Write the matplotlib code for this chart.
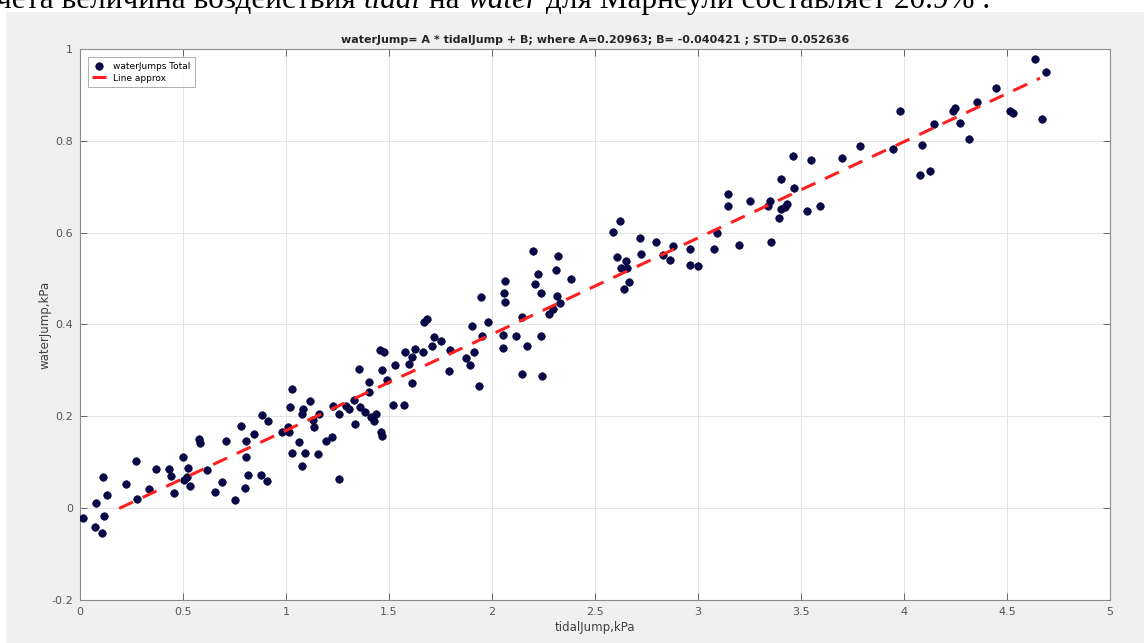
import numpy as np
import matplotlib
matplotlib.use("Agg")
import matplotlib.pyplot as plt
from matplotlib.patches import Rectangle

# data (tidalJump, waterJump in kPa)
tidal = [
    0.016, 0.076, 0.073, 0.105, 0.110, 0.131, 0.117, 0.223, 0.270, 0.278,
    0.335, 0.367, 0.432, 0.442, 0.456, 0.502, 0.523, 0.507, 0.518, 0.536,
    0.578, 0.584, 0.617, 0.654, 0.688, 0.710, 0.754, 0.780, 0.806, 0.806,
    0.814, 0.803, 0.843, 0.882, 0.911, 0.880, 0.909, 0.980, 1.013, 1.011,
    1.029, 1.019, 1.031, 1.065, 1.076, 1.081, 1.079, 1.091, 1.117, 1.129,
    1.136, 1.154, 1.162, 1.194, 1.223, 1.227, 1.259, 1.259, 1.293, 1.307,
    1.330, 1.333, 1.352, 1.359, 1.385, 1.401, 1.404, 1.411, 1.429, 1.437,
    1.460, 1.467, 1.455, 1.477, 1.464, 1.492, 1.521, 1.531, 1.574, 1.579,
    1.599, 1.612, 1.612, 1.626, 1.665, 1.670, 1.684, 1.707, 1.720, 1.750,
    1.790, 1.796, 1.874, 1.893, 1.903, 1.911, 1.937, 1.947, 1.950, 1.979,
    2.052, 2.053, 2.063, 2.058, 2.063, 2.117, 2.144, 2.144, 2.171, 2.201,
    2.209, 2.222, 2.239, 2.238, 2.241, 2.275, 2.294, 2.309, 2.319, 2.314,
    2.328, 2.385, 2.589, 2.623, 2.605, 2.628, 2.650, 2.655, 2.665, 2.639,
    2.717, 2.723, 2.796, 2.828, 2.865, 2.880, 2.961, 2.963, 3.001, 3.078,
    3.094, 3.147, 3.147, 3.199, 3.252, 3.348, 3.341, 3.356, 3.393, 3.403,
    3.403, 3.422, 3.434, 3.463, 3.464, 3.527, 3.550, 3.592, 3.699, 3.788,
    3.948, 3.981, 4.078, 4.087, 4.125, 4.144, 4.240, 4.246, 4.270, 4.314,
    4.354, 4.445, 4.516, 4.531, 4.638, 4.691, 4.670,
]
water = [
    -0.022, 0.012, -0.041, -0.053, 0.068, 0.028, -0.018, 0.053, 0.103, 0.019,
    0.042, 0.086, 0.086, 0.070, 0.033, 0.112, 0.088, 0.061, 0.067, 0.048,
    0.150, 0.143, 0.084, 0.036, 0.057, 0.146, 0.018, 0.178, 0.147, 0.112,
    0.073, 0.044, 0.162, 0.203, 0.190, 0.073, 0.060, 0.166, 0.166, 0.177,
    0.120, 0.221, 0.260, 0.144, 0.092, 0.215, 0.205, 0.121, 0.233, 0.192,
    0.176, 0.118, 0.205, 0.147, 0.156, 0.222, 0.064, 0.205, 0.222, 0.215,
    0.235, 0.184, 0.302, 0.221, 0.210, 0.253, 0.275, 0.199, 0.190, 0.206,
    0.166, 0.158, 0.344, 0.341, 0.301, 0.280, 0.224, 0.311, 0.225, 0.341,
    0.315, 0.330, 0.273, 0.346, 0.341, 0.406, 0.411, 0.353, 0.373, 0.364,
    0.299, 0.344, 0.327, 0.312, 0.396, 0.340, 0.266, 0.459, 0.374, 0.405,
    0.378, 0.349, 0.495, 0.468, 0.450, 0.376, 0.417, 0.293, 0.354, 0.561,
    0.488, 0.510, 0.469, 0.374, 0.288, 0.422, 0.434, 0.518, 0.549, 0.461,
    0.447, 0.500, 0.602, 0.625, 0.548, 0.523, 0.539, 0.523, 0.492, 0.478,
    0.588, 0.553, 0.580, 0.552, 0.540, 0.571, 0.565, 0.529, 0.527, 0.565,
    0.600, 0.684, 0.659, 0.574, 0.670, 0.670, 0.658, 0.580, 0.631, 0.716,
    0.651, 0.656, 0.663, 0.768, 0.697, 0.647, 0.758, 0.658, 0.762, 0.789,
    0.782, 0.866, 0.725, 0.792, 0.734, 0.836, 0.866, 0.871, 0.838, 0.803,
    0.885, 0.914, 0.866, 0.860, 0.979, 0.949, 0.847,
]

# fit coefficients from the title
A = 0.20963
B = -0.040421
STD = 0.052636
line_x = [0.19, 4.66]

xticks = [0, 0.5, 1, 1.5, 2, 2.5, 3, 3.5, 4, 4.5, 5]
xtick_labels = ["0", "0.5", "1", "1.5", "2", "2.5", "3", "3.5", "4", "4.5", "5"]
yticks = [-0.2, 0, 0.2, 0.4, 0.6, 0.8, 1]
ytick_labels = ["-0.2", "0", "0.2", "0.4", "0.6", "0.8", "1"]

# cut-off line of document text above the screenshot (text, italic?)
doc_parts = [
    ("чета величина воздействия ", False),
    ("tidal", True),
    (" на ", False),
    ("water", True),
    (" для Марнеули составляет 20.9% .", False),
]

W, H = 1144, 643
fig = plt.figure(figsize=(W / 100, H / 100), dpi=100, facecolor="white")

# gray matlab window background
fig.add_artist(Rectangle((6 / W, 0), 1 - 6 / W, 1 - 12 / H, transform=fig.transFigure,
                         facecolor="#f0f0f0", edgecolor="none", zorder=0))

# place the document text pieces one after another
renderer = fig.canvas.get_renderer()
x_px = -4
for txt, ital in doc_parts:
    t = fig.text(x_px / W, 1 - 8 / H, txt, family="Liberation Serif", fontsize=22.5,
                 style="italic" if ital else "normal", va="baseline")
    x_px += t.get_window_extent(renderer).width

ax = fig.add_axes([80 / W, (H - 600) / H, 1030 / W, 551 / H])
ax.set_facecolor("white")

ax.plot(tidal, water, linestyle="none", marker="o", markersize=5.4,
        markerfacecolor="#07074a", markeredgecolor="#000030", markeredgewidth=0.5,
        label="waterJumps Total", zorder=3)
line_y = [A * v + B for v in line_x]
ax.plot(line_x, line_y, color="#ff1f1f", linewidth=2.2, dashes=(5, 3.5),
        label="Line approx", zorder=4)

ax.set_xlim(0, 5)
ax.set_ylim(-0.2, 1)
ax.set_xticks(xticks)
ax.set_xticklabels(xtick_labels)
ax.set_yticks(yticks)
ax.set_yticklabels(ytick_labels)
ax.tick_params(direction="in", length=5, width=0.6, color="#555555", labelsize=8,
               labelcolor="#555555", top=True, right=True, pad=5)
ax.grid(True, color="#e4e4e4", linewidth=0.7)
ax.set_axisbelow(True)
for s in ax.spines.values():
    s.set_color("#8a8a8a")
    s.set_linewidth(0.8)

ax.set_xlabel("tidalJump,kPa", fontsize=8.5, color="#404040", labelpad=3)
ax.set_ylabel("waterJump,kPa", fontsize=8.5, color="#404040", labelpad=0)
ax.set_title("waterJump= A * tidalJump + B; where A=%.5f; B= %.6f ; STD= %.6f" % (A, B, STD),
             fontsize=8, fontweight="bold", color="#262626", pad=4)

leg = ax.legend(loc="upper left", fontsize=6.5, frameon=True, fancybox=False,
                borderpad=0.5, handlelength=1.5, handletextpad=0.8,
                labelspacing=0.3, bbox_to_anchor=(0.003, 0.993))
leg.get_frame().set_edgecolor("#9a9a9a")
leg.get_frame().set_linewidth(0.7)

fig.savefig("out.png", dpi=100, facecolor=fig.get_facecolor())
